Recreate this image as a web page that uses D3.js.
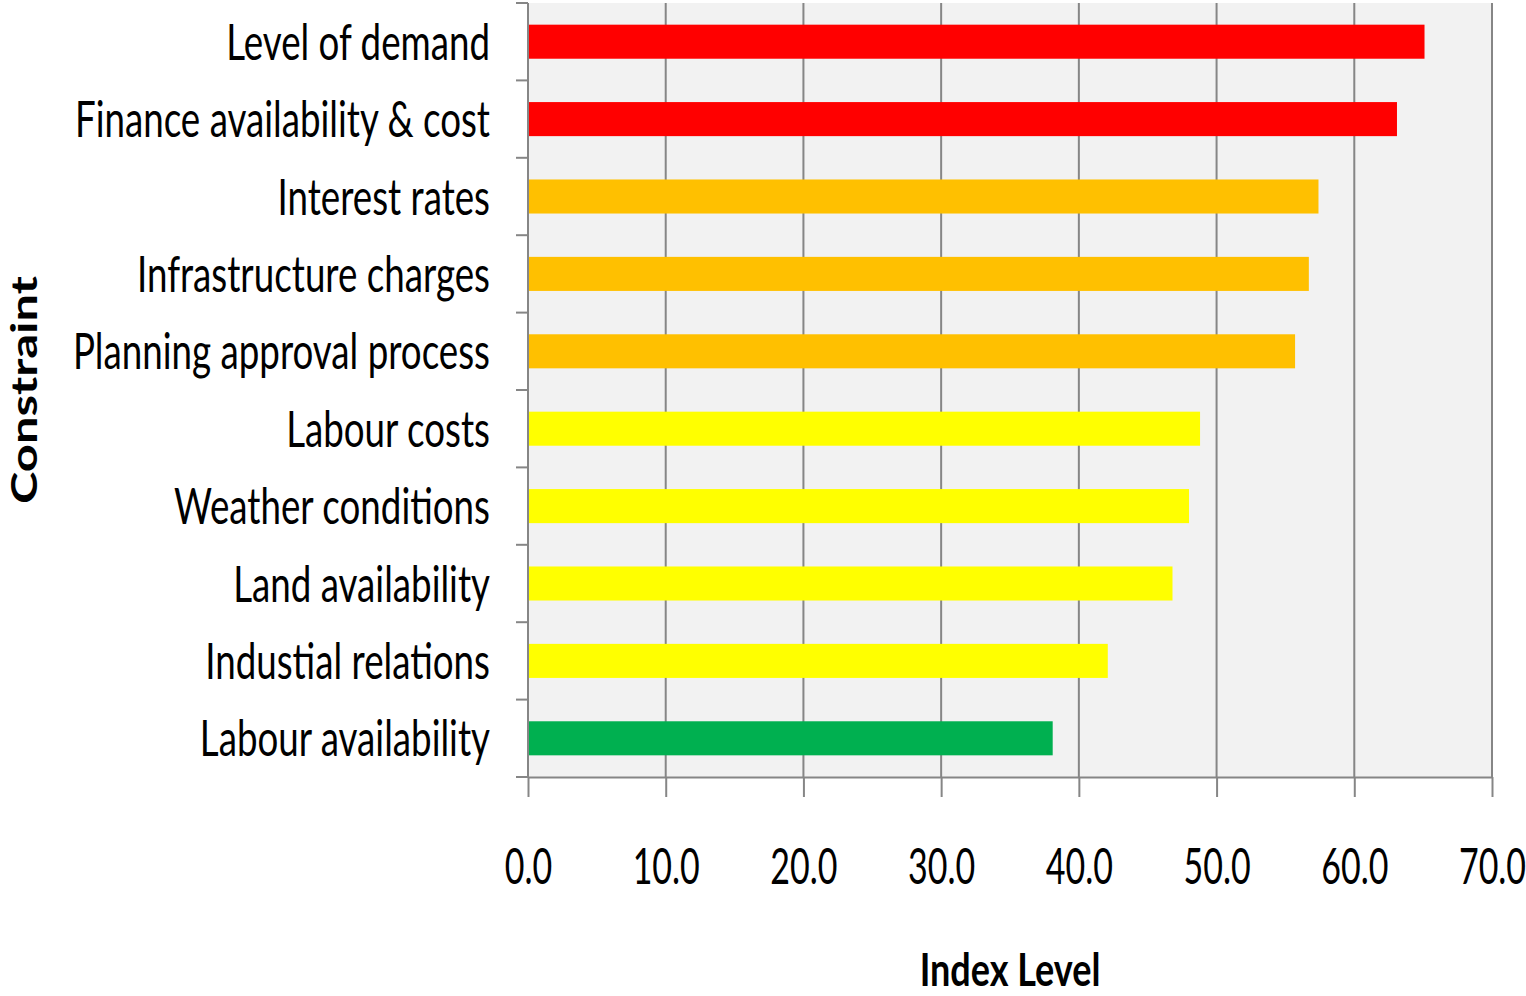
<!DOCTYPE html>
<html>
<head>
<meta charset="utf-8">
<script src="https://cdn.jsdelivr.net/npm/d3@7.9.0/dist/d3.min.js"></script>
<style>
  body { margin: 0; background: #fff; }
  svg { display: block; }
  text { font-family: Lato, "Open Sans", sans-serif; fill: #000; }
</style>
</head>
<body>
<div id="chart"></div>
<script>
const categories = [
  'Level of demand',
  'Finance availability & cost',
  'Interest rates',
  'Infrastructure charges',
  'Planning approval process',
  'Labour costs',
  'Weather conditions',
  'Land availability',
  'Industial relations',
  'Labour availability'
];
const values = [65.1, 63.1, 57.4, 56.7, 55.7, 48.8, 48.0, 46.8, 42.1, 38.1];
const barColors = ['#FF0000', '#FF0000', '#FFC000', '#FFC000', '#FFC000',
  '#FFFF00', '#FFFF00', '#FFFF00', '#FFFF00', '#00B050'];
const xTicks = [0, 10, 20, 30, 40, 50, 60, 70];

const width = 1526, height = 996;
const plotLeft = 528, plotRight = 1492, plotTop = 3, plotBottom = 777;
const squeeze = 0.72;   // text is drawn narrower than it is tall
const axisColor = '#868686';

const svg = d3.select('#chart').append('svg')
  .attr('width', width)
  .attr('height', height);

const x = d3.scaleLinear().domain([0, 70]).range([plotLeft, plotRight]);
const y = d3.scaleBand().domain(categories).range([plotTop, plotBottom])
  .paddingInner(0.56).paddingOuter(0.28);
const slot = y.step();
const slotTop = c => y(c) - slot * 0.28;

// plot background
svg.append('rect')
  .attr('x', plotLeft).attr('y', plotTop)
  .attr('width', plotRight - plotLeft).attr('height', plotBottom - plotTop)
  .attr('fill', '#F2F2F2');

// vertical gridlines
svg.append('g')
  .selectAll('line')
  .data(xTicks.slice(1))
  .join('line')
  .attr('x1', d => x(d)).attr('x2', d => x(d))
  .attr('y1', plotTop).attr('y2', plotBottom)
  .attr('stroke', axisColor).attr('stroke-width', 2);

// bars
svg.append('g')
  .selectAll('rect')
  .data(categories)
  .join('rect')
  .attr('x', x(0))
  .attr('y', d => y(d))
  .attr('width', (d, i) => x(values[i]) - x(0))
  .attr('height', y.bandwidth())
  .attr('fill', (d, i) => barColors[i]);

// x axis
const xAxis = svg.append('g')
  .attr('transform', `translate(0,${plotBottom})`)
  .call(d3.axisBottom(x).tickValues(xTicks).tickFormat(d3.format('.1f')).tickSize(20).tickSizeOuter(0));
xAxis.select('.domain').attr('stroke', axisColor).attr('stroke-width', 2);
xAxis.selectAll('.tick line').attr('stroke', axisColor).attr('stroke-width', 2);
xAxis.selectAll('.tick text')
  .attr('y', 107).attr('dy', 0)
  .attr('font-size', 50)
  .attr('transform', 'scale(0.68,1)');

// y axis line and category ticks at slot boundaries
const yAxis = svg.append('g');
yAxis.append('line')
  .attr('x1', plotLeft).attr('x2', plotLeft)
  .attr('y1', plotTop).attr('y2', plotBottom)
  .attr('stroke', axisColor).attr('stroke-width', 2);
yAxis.selectAll('line.tick')
  .data(categories.map(slotTop).concat([plotBottom]))
  .join('line')
  .attr('class', 'tick')
  .attr('x1', plotLeft - 12).attr('x2', plotLeft)
  .attr('y1', d => d).attr('y2', d => d)
  .attr('stroke', axisColor).attr('stroke-width', 2);

// category labels
svg.append('g')
  .selectAll('text')
  .data(categories)
  .join('text')
  .attr('transform', d => `translate(${plotLeft - 38},${y(d) + y.bandwidth() / 2 + 18}) scale(${squeeze},1)`)
  .attr('text-anchor', 'end')
  .attr('font-size', 51)
  .text(d => d);

// axis titles
svg.append('text')
  .attr('transform', `translate(${(plotLeft + plotRight) / 2},986) scale(0.8,1)`)
  .attr('text-anchor', 'middle')
  .attr('font-size', 45)
  .attr('font-weight', 'bold')
  .text('Index Level');

svg.append('text')
  .attr('transform', `translate(37,${(plotTop + plotBottom) / 2}) rotate(-90) scale(1.36,1)`)
  .attr('text-anchor', 'middle')
  .attr('font-size', 36)
  .attr('font-weight', 'bold')
  .text('Constraint');
</script>
</body>
</html>
